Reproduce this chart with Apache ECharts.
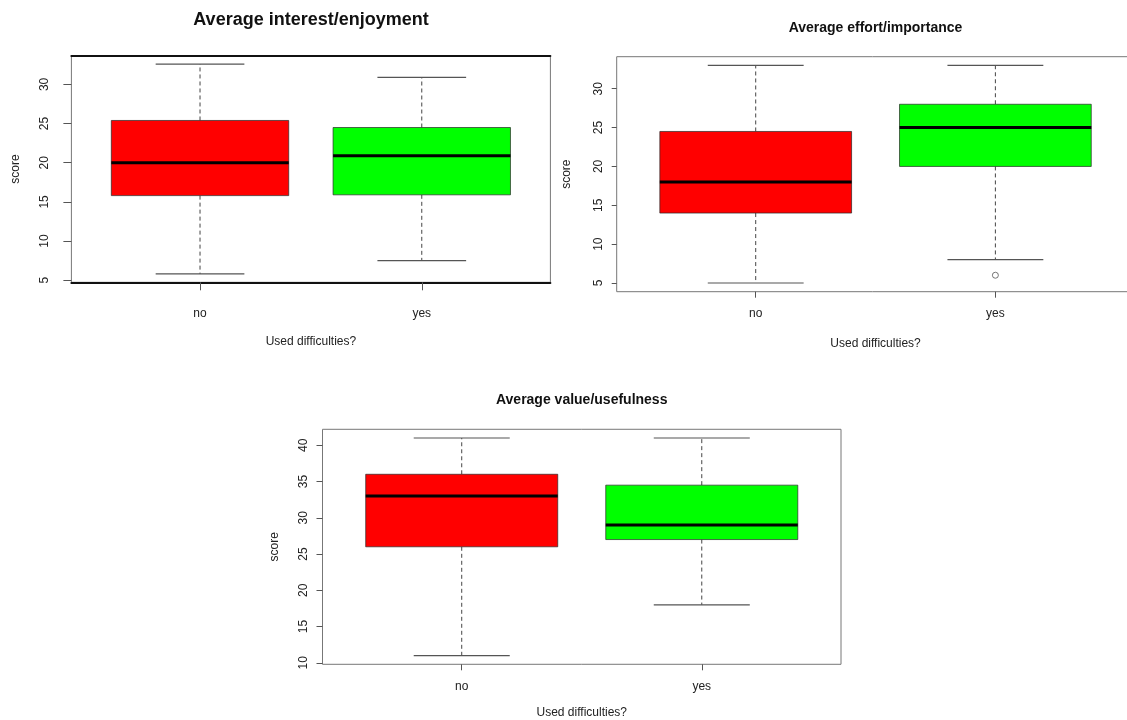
<!DOCTYPE html>
<html>
<head>
<meta charset="utf-8">
<script src="https://cdn.jsdelivr.net/npm/echarts@6/dist/echarts.min.js"></script>
<style>
html,body{margin:0;padding:0;background:#fff;}
#chart{width:1127px;height:720px;}
</style>
</head>
<body>
<div id="chart"></div>
<script>
// ---- data (five-number summaries: min, Q1, median, Q3, max) ----
const categories = ['no', 'yes'];
const titles = ['Average interest/enjoyment', 'Average effort/importance', 'Average value/usefulness'];
const interestNo  = [5.8, 15.8, 20.0, 25.4, 32.6];
const interestYes = [7.5, 15.9, 20.9, 24.5, 30.9];
const effortNo    = [5, 14, 18, 24.5, 33];
const effortYes   = [8, 20, 25, 28, 33];
const effortYesOutliers = [6];
const valueNo     = [11, 26, 33, 36, 41];
const valueYes    = [18, 27, 29, 34.5, 41];
const interestTicks = [5, 10, 15, 20, 25, 30];
const effortTicks   = [5, 10, 15, 20, 25, 30];
const valueTicks    = [10, 15, 20, 25, 30, 35, 40];
const boxColors = ['#ff0000', '#00ff00'];

const FONT = '"Liberation Sans", Arial, Helvetica, sans-serif';
const TXT = '#222';

function rRange(arrs) {
  let lo = Infinity, hi = -Infinity;
  arrs.forEach(a => a.forEach(v => { lo = Math.min(lo, v); hi = Math.max(hi, v); }));
  const d = (hi - lo) * 0.04;
  return [lo - d, hi + d];
}
const r1 = rRange([interestNo, interestYes]);
const r2 = rRange([effortNo, effortYes, effortYesOutliers]);
const r3 = rRange([valueNo, valueYes]);

function renderBox(params, api) {
  const x = api.value(0);
  const lo = api.value(1), q1 = api.value(2), med = api.value(3), q3 = api.value(4), hi = api.value(5);
  const c = (xx, yy) => api.coord([xx, yy]);
  const tl = c(x - 0.4, q3), br = c(x + 0.4, q1);
  const mL = c(x - 0.4, med), mR = c(x + 0.4, med);
  const top = c(x, hi), bot = c(x, lo), up = c(x, q3), dn = c(x, q1);
  const capHL = c(x - 0.2, hi), capHR = c(x + 0.2, hi);
  const capLL = c(x - 0.2, lo), capLR = c(x + 0.2, lo);
  const dash = {stroke: '#444', lineWidth: 1, lineDash: [4, 3]};
  const cap = {stroke: '#555', lineWidth: 1.2};
  return {
    type: 'group',
    children: [
      {type: 'line', shape: {x1: up[0], y1: up[1], x2: top[0], y2: top[1]}, style: dash},
      {type: 'line', shape: {x1: dn[0], y1: dn[1], x2: bot[0], y2: bot[1]}, style: dash},
      {type: 'line', shape: {x1: capHL[0], y1: capHL[1], x2: capHR[0], y2: capHR[1]}, style: cap},
      {type: 'line', shape: {x1: capLL[0], y1: capLL[1], x2: capLR[0], y2: capLR[1]}, style: cap},
      {type: 'rect', shape: {x: tl[0], y: tl[1], width: br[0] - tl[0], height: br[1] - tl[1]},
        style: {fill: boxColors[params.dataIndex], stroke: 'rgba(40,40,40,0.7)', lineWidth: 1}},
      {type: 'line', shape: {x1: mL[0], y1: mL[1], x2: mR[0], y2: mR[1]}, style: {stroke: '#000', lineWidth: 3}}
    ]
  };
}

const grids = [
  {left: 71.4, top: 55.7, width: 479, height: 226.6},
  {left: 616.7, top: 56.7, width: 517.7, height: 235},
  {left: 322.5, top: 429.3, width: 518.5, height: 235}
];
const cfg = [
  {tick: 8, lblMargin: 25, nameGap: 53, yTick: 8, yMargin: 20.5, yNameGap: 50, yTicks: interestTicks, range: r1},
  {tick: 6, lblMargin: 16, nameGap: 45.5, yTick: 5, yMargin: 12, yNameGap: 44, yTicks: effortTicks, range: r2},
  {tick: 6, lblMargin: 16, nameGap: 42.5, yTick: 6, yMargin: 13, yNameGap: 42, yTicks: valueTicks, range: r3}
];

const xAxes = cfg.map((c, i) => ({
  type: 'value', gridIndex: i, min: 0.42, max: 2.58,
  axisLine: {show: i === 0, lineStyle: {color: '#111', width: 2}},
  splitLine: {show: false},
  axisTick: {show: true, customValues: [1, 2], length: c.tick, lineStyle: {color: '#555'}},
  axisLabel: {customValues: [1, 2], formatter: v => categories[Math.round(v) - 1],
    margin: c.lblMargin, fontSize: 12, color: TXT, fontFamily: FONT},
  name: 'Used difficulties?', nameLocation: 'middle', nameGap: c.nameGap,
  nameTextStyle: {fontSize: 12, color: TXT, fontFamily: FONT}
}));
xAxes.push({
  type: 'value', gridIndex: 0, position: 'top', min: 0.42, max: 2.58,
  axisLine: {show: true, lineStyle: {color: '#111', width: 2}},
  axisTick: {show: false}, axisLabel: {show: false}, splitLine: {show: false}
});

const yAxes = cfg.map((c, i) => ({
  type: 'value', gridIndex: i, min: c.range[0], max: c.range[1],
  axisLine: {show: false}, splitLine: {show: false},
  axisTick: {show: true, customValues: c.yTicks, length: c.yTick, lineStyle: {color: '#555'}},
  axisLabel: {customValues: c.yTicks, rotate: 90, margin: c.yMargin, fontSize: 12, color: TXT, fontFamily: FONT},
  name: 'score', nameLocation: 'middle', nameGap: c.yNameGap, nameRotate: 90,
  nameTextStyle: {fontSize: 12, color: TXT, fontFamily: FONT}
}));

const boxData = [
  [[1, ...interestNo], [2, ...interestYes]],
  [[1, ...effortNo], [2, ...effortYes]],
  [[1, ...valueNo], [2, ...valueYes]]
];

const series = boxData.map((d, i) => ({
  type: 'custom', xAxisIndex: i, yAxisIndex: i, renderItem: renderBox,
  encode: {x: 0, y: [1, 2, 3, 4, 5]}, data: d, clip: false, silent: true
}));
series.push({
  type: 'scatter', xAxisIndex: 1, yAxisIndex: 1,
  data: effortYesOutliers.map(v => [2, v]),
  symbol: 'circle', symbolSize: 6,
  itemStyle: {color: '#fff', borderColor: '#555', borderWidth: 1}, silent: true
});

const chart = echarts.init(document.getElementById('chart'), null, {renderer: 'canvas'});
chart.setOption({
  animation: false,
  backgroundColor: '#fff',
  title: [
    {text: titles[0], left: 311, top: 11, textAlign: 'center', padding: 0,
      textStyle: {fontSize: 18, fontWeight: 'bold', color: '#111', fontFamily: FONT}},
    {text: titles[1], left: 875.5, top: 21.5, textAlign: 'center', padding: 0,
      textStyle: {fontSize: 14, fontWeight: 'bold', color: '#111', fontFamily: FONT}},
    {text: titles[2], left: 581.7, top: 393.5, textAlign: 'center', padding: 0,
      textStyle: {fontSize: 14, fontWeight: 'bold', color: '#111', fontFamily: FONT}}
  ],
  grid: grids.map(g => Object.assign({show: true, borderColor: '#777', borderWidth: 1,
    backgroundColor: 'transparent', containLabel: false, outerBoundsMode: 'none'}, g)),
  xAxis: xAxes,
  yAxis: yAxes,
  series: series
});
</script>
</body>
</html>
